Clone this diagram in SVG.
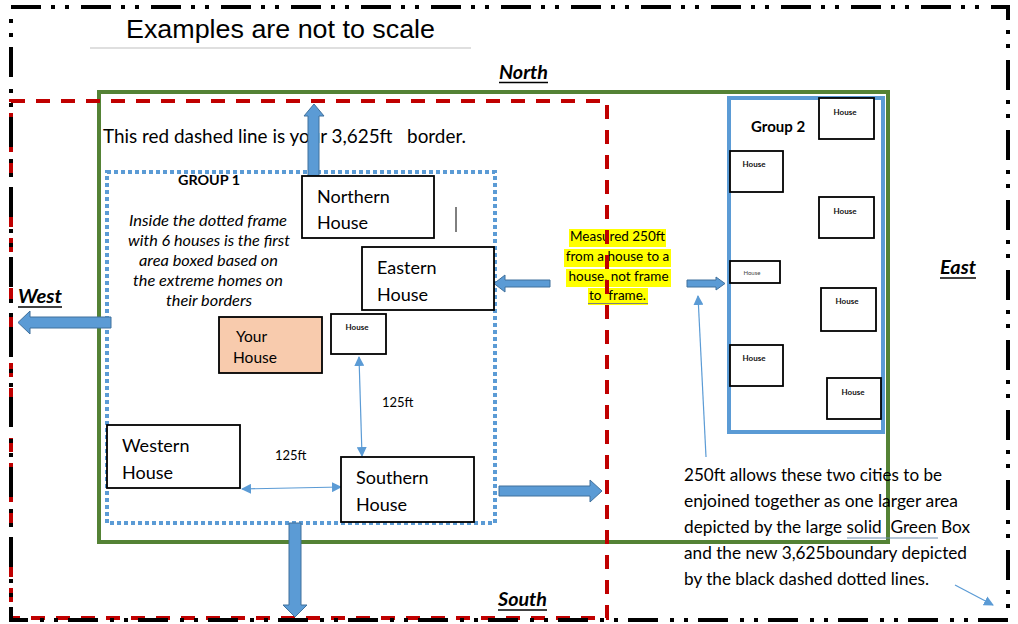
<svg xmlns="http://www.w3.org/2000/svg" width="1018" height="624" viewBox="0 0 1018 624">
<defs>
<style>
text{font-family:Lato,"Liberation Sans",sans-serif;fill:#000}
.t18{font-size:18px}
.t16{font-size:15.5px}
.sm{font-size:8px;text-anchor:middle;font-weight:bold;fill:#111}
.lbl{font-size:13px}
.dir{font-size:19px;font-weight:bold;font-style:italic}
.box{fill:#fff;stroke:#000;stroke-width:1.8}
.blk{fill:#5b9bd5;stroke:#41719c;stroke-width:1}
.thin{stroke:#5b9bd5;stroke-width:1.2;fill:none}
.yl{fill:#ffff00}
</style>
<marker id="ah" viewBox="0 0 10 10" refX="9" refY="5" markerWidth="10" markerHeight="10" markerUnits="userSpaceOnUse" orient="auto-start-reverse">
<path d="M0,0 L10,5 L0,10 Z" fill="#5b9bd5"/>
</marker>
</defs>
<rect width="1018" height="624" fill="#fff"/>

<g id="title">
<text x="126" y="38" textLength="309" lengthAdjust="spacingAndGlyphs" style="font-family:'Liberation Sans',Arial,sans-serif;font-size:26.5px">Examples are not to scale</text>
<line x1="90" y1="48" x2="471" y2="48" stroke="#bfbfbf" stroke-width="1"/>
</g>

<g id="green-box">
<rect x="99" y="92" width="789" height="450" fill="none" stroke="#548235" stroke-width="4"/>
</g>

<g id="measured-note">
<rect class="yl" x="569" y="229" width="97" height="18"/>
<rect class="yl" x="564" y="249" width="107" height="18"/>
<rect class="yl" x="566" y="269" width="105" height="18"/>
<rect class="yl" x="588" y="288" width="60" height="17"/>
<g style="font-size:13.5px;text-anchor:middle">
<text x="617.5" y="241">Measured 250ft</text>
<text x="617.5" y="261">from a house to a</text>
<text x="618.5" y="281">house, not frame</text>
<text x="617.5" y="300">to&#160; frame.</text>
</g>
<line x1="588" y1="303.5" x2="648" y2="303.5" stroke="#7f7f7f" stroke-width="1"/>
</g>

<g id="red-border">
<rect x="11" y="101" width="596" height="517" fill="none" stroke="#c00000" stroke-width="4" stroke-dasharray="14 11"/>
</g>

<g id="black-border">
<path d="M11,7 H1008 V620 H11 Z" fill="none" stroke="#000" stroke-width="4" stroke-dasharray="30 10 4 10 4 12"/>
</g>

<g id="directions">
<text class="dir" x="499" y="79" textLength="49" lengthAdjust="spacingAndGlyphs">North</text>
<line x1="499" y1="82.5" x2="548" y2="82.5" stroke="#000" stroke-width="1.3"/>
<text class="dir" x="940" y="274" textLength="36" lengthAdjust="spacingAndGlyphs">East</text>
<line x1="940" y1="278" x2="976" y2="278" stroke="#000" stroke-width="1.3"/>
<text class="dir" x="18" y="303" textLength="44" lengthAdjust="spacingAndGlyphs">West</text>
<line x1="18" y1="307" x2="62" y2="307" stroke="#000" stroke-width="1.3"/>
<text class="dir" x="498" y="606" textLength="49" lengthAdjust="spacingAndGlyphs">South</text>
<line x1="498" y1="610" x2="547" y2="610" stroke="#000" stroke-width="1.3"/>
</g>

<g id="border-note">
<text x="103" y="143" textLength="363" lengthAdjust="spacingAndGlyphs" style="font-size:19px">This red dashed line is your 3,625ft&#160;&#160; border.</text>
</g>

<g id="group1">
<rect x="107" y="172" width="388" height="351" fill="none" stroke="#5b9bd5" stroke-width="4" stroke-dasharray="4 3"/>
<text x="178" y="185" textLength="62" lengthAdjust="spacingAndGlyphs" style="font-size:14px;font-weight:bold">GROUP 1</text>
<g style="font-size:16px;font-style:italic">
<text x="129" y="226" textLength="158" lengthAdjust="spacingAndGlyphs">Inside the dotted frame</text>
<text x="128" y="246" textLength="162" lengthAdjust="spacingAndGlyphs">with 6 houses is the first</text>
<text x="139" y="266" textLength="139" lengthAdjust="spacingAndGlyphs">area boxed based on</text>
<text x="133" y="286" textLength="150" lengthAdjust="spacingAndGlyphs">the extreme homes on</text>
<text x="166" y="306" textLength="86" lengthAdjust="spacingAndGlyphs">their borders</text>
</g>
</g>

<g id="connectors">
<path class="blk" d="M308,176 V116 H304 L314,104 L324,116 H319 V176 Z"/>
<path class="blk" d="M111,317 H30 V311 L18,322.5 L30,334 V328 H111 Z"/>
<path class="blk" d="M289,523 V605 H283 L295,617 L307,605 H301 V523 Z"/>
<path class="blk" d="M550,280 H505 V275 L494,283.5 L505,292 V287 H550 Z"/>
<path class="blk" d="M687,280 H716 V277 L725,283.5 L716,290 V287 H687 Z"/>
<path class="blk" d="M499,486 H590 V480 L602,491 L590,502 V496 H499 Z"/>
<line class="thin" x1="359" y1="357" x2="362" y2="456" marker-start="url(#ah)" marker-end="url(#ah)"/>
<line class="thin" x1="242" y1="489" x2="341" y2="487" marker-start="url(#ah)" marker-end="url(#ah)"/>
<line class="thin" x1="706" y1="457" x2="698" y2="296" marker-end="url(#ah)"/>
<line class="thin" x1="955" y1="585" x2="993" y2="605" marker-end="url(#ah)"/>
<text class="lbl" x="382" y="407">125ft</text>
<text class="lbl" x="275" y="460">125ft</text>
</g>

<g id="northern-house">
<rect class="box" x="302" y="176" width="132" height="62"/>
<text class="t18" x="317" y="203">Northern</text>
<text class="t18" x="317" y="229">House</text>
<line x1="456" y1="207" x2="456" y2="232" stroke="#000" stroke-width="1"/>
</g>

<g id="eastern-house">
<rect class="box" x="362" y="247" width="132" height="63"/>
<text class="t18" x="377" y="274">Eastern</text>
<text class="t18" x="377" y="301">House</text>
</g>

<g id="your-house">
<rect x="219" y="317" width="103" height="56" fill="#f8cbad" stroke="#000" stroke-width="1.8"/>
<text class="t16" x="236" y="342">Your</text>
<text class="t16" x="233" y="363">House</text>
</g>

<g id="house-g1">
<rect class="box" x="331" y="314" width="55" height="40"/>
<text class="sm" x="357" y="330">House</text>
</g>

<g id="western-house">
<rect class="box" x="107" y="425" width="133" height="63"/>
<text class="t18" x="122" y="452">Western</text>
<text class="t18" x="122" y="479">House</text>
</g>

<g id="southern-house">
<rect class="box" x="341" y="457" width="133" height="65"/>
<text class="t18" x="356" y="484">Southern</text>
<text class="t18" x="356" y="511">House</text>
</g>

<g id="group2">
<rect x="729" y="98" width="154" height="334" fill="none" stroke="#5b9bd5" stroke-width="4"/>
<text x="751" y="132" style="font-size:15px;font-weight:bold">Group 2</text>
</g>

<g id="g2-house1"><rect class="box" x="819" y="98" width="55" height="41"/><text class="sm" x="845" y="115">House</text></g>
<g id="g2-house2"><rect class="box" x="730" y="151" width="53" height="41"/><text class="sm" x="754" y="167">House</text></g>
<g id="g2-house3"><rect class="box" x="819" y="197" width="55" height="41"/><text class="sm" x="845" y="214">House</text></g>
<g id="g2-house4"><rect class="box" x="730" y="261" width="50" height="22"/><text x="752" y="275" style="font-size:6px;text-anchor:middle;fill:#444">House</text></g>
<g id="g2-house5"><rect class="box" x="821" y="288" width="55" height="43"/><text class="sm" x="847" y="304">House</text></g>
<g id="g2-house6"><rect class="box" x="730" y="345" width="53" height="41"/><text class="sm" x="754" y="361">House</text></g>
<g id="g2-house7"><rect class="box" x="827" y="378" width="54" height="41"/><text class="sm" x="853" y="395">House</text></g>

<g id="summary-note">
<g style="font-size:17px">
<text x="684" y="481" textLength="258" lengthAdjust="spacingAndGlyphs">250ft allows these two cities to be</text>
<text x="684" y="507" textLength="274" lengthAdjust="spacingAndGlyphs">enjoined together as one larger area</text>
<text x="684" y="533" textLength="286" lengthAdjust="spacingAndGlyphs">depicted by the large solid&#160; Green Box</text>
<text x="684" y="559" textLength="283" lengthAdjust="spacingAndGlyphs">and the new 3,625boundary depicted</text>
<text x="684" y="585" textLength="245" lengthAdjust="spacingAndGlyphs">by the black dashed dotted lines.</text>
</g>
<line x1="847" y1="538" x2="938" y2="538" stroke="#6f8fb0" stroke-width="1"/>
</g>
</svg>
